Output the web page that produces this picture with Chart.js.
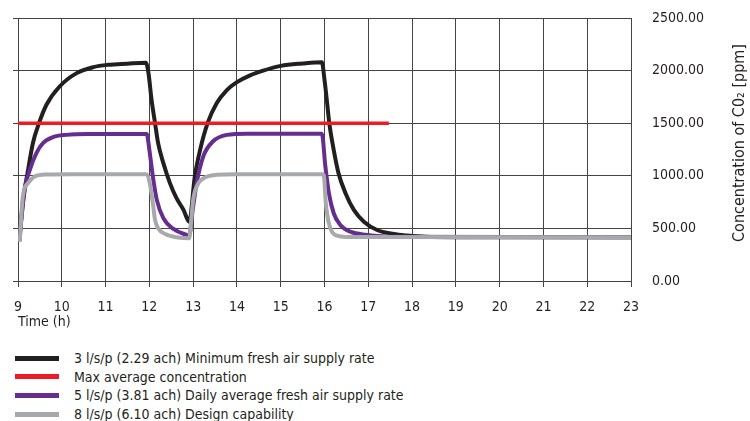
<!DOCTYPE html>
<html>
<head>
<meta charset="utf-8">
<script src="https://cdn.jsdelivr.net/npm/chart.js@4.4.1/dist/chart.umd.min.js"></script>
<style>
    body { margin: 0; background: #fff; }
    #wrap { position: relative; width: 750px; height: 421px; }
    #chart { position: absolute; left: 0; top: 0; }
    #legend {
        position: absolute; left: 15px; top: 349px;
        font: 14px 'Liberation Sans Narrow', 'DejaVu Sans Condensed', sans-serif;
        color: #231f20;
    }
    .row { display: flex; align-items: center; height: 18.6px; }
    .sw { width: 44px; height: 5px; margin-right: 15px; }
</style>
</head>
<body>
<div id="wrap">
    <canvas id="chart" width="750" height="335"></canvas>
    <div id="legend"></div>
</div>
<script>
const FONT = "'Liberation Sans Narrow', 'DejaVu Sans Condensed', sans-serif";
const INK = '#231f20';
const GRID = '#444444';

// series labels (legend order)
const labels = [
    '3 l/s/p (2.29 ach) Minimum fresh air supply rate',
    'Max average concentration',
    '5 l/s/p (3.81 ach) Daily average fresh air supply rate',
    '8 l/s/p (6.10 ach) Design capability'
];
const colors = ['#231f20', '#ed1c24', '#662d91', '#a7a9ac'];

// 3 l/s/p
const blackT = [9.03, 9.11, 9.23, 9.34, 9.48, 9.65, 9.95, 10.34, 10.72, 11.06, 11.5, 11.92,
    11.98, 12.05, 12.13, 12.2, 12.32, 12.47, 12.62, 12.78, 12.91,
    13.04, 13.16, 13.33, 13.54, 13.77, 14.0, 14.3, 14.6, 15.0, 15.5, 15.94,
    16.0, 16.06, 16.11, 16.21, 16.32, 16.48, 16.67, 16.9, 17.2, 17.58, 17.89, 18.3, 19, 23];
const blackV = [380, 739, 1056, 1310, 1500, 1675, 1849, 1976, 2033, 2055, 2066, 2075,
    1976, 1722, 1500, 1310, 1120, 930, 787, 676, 564,
    1000, 1247, 1500, 1691, 1815, 1890, 1955, 2000, 2045, 2068, 2080,
    1913, 1691, 1500, 1247, 1025, 835, 676, 564, 485, 447, 432, 420, 417, 417];

// max average concentration
const redT = [9, 17.47];
const redV = [1500, 1500];

// 5 l/s/p
const purpleT = [9.03, 9.15, 9.27, 9.42, 9.57, 9.8, 10.1, 10.6, 11.94,
    12.0, 12.08, 12.17, 12.32, 12.55, 12.85, 12.91,
    12.99, 13.08, 13.23, 13.45, 13.77, 14.23, 15.94,
    16.02, 16.1, 16.21, 16.36, 16.59, 16.97, 17.2, 17.6, 23];
const purpleV = [380, 866, 1056, 1215, 1310, 1367, 1389, 1398, 1398,
    1247, 993, 771, 597, 495, 438, 431,
    676, 930, 1183, 1326, 1389, 1400, 1400,
    1088, 835, 644, 533, 469, 438, 428, 420, 417];

// 8 l/s/p
const grayT = [9.04, 9.11, 9.23, 9.38, 9.65, 10.2, 11.94,
    12.01, 12.08, 12.13, 12.2, 12.36, 12.62, 12.91,
    12.95, 13.0, 13.1, 13.24, 13.54, 14.0, 15.98,
    16.03, 16.09, 16.17, 16.32, 16.59, 23];
const grayV = [375, 802, 930, 993, 1012, 1015, 1015,
    930, 739, 580, 501, 447, 416, 406,
    549, 771, 914, 977, 1009, 1015, 1015,
    739, 564, 469, 428, 418, 417];

const xTicks = [9, 23, 1];            // min, max, step (h)
const yTicks = [0, 2500, 500];        // min, max, step (ppm)

const pts = (t, v) => t.map((x, i) => ({x: x, y: v[i]}));

const series = [
    {t: blackT, v: blackV, width: 4, order: 3},
    {t: redT, v: redV, width: 3.4, order: 0},
    {t: purpleT, v: purpleV, width: 4, order: 2},
    {t: grayT, v: grayV, width: 4, order: 1}
];

const datasets = series.map((s, i) => ({
    label: labels[i],
    data: pts(s.t, s.v),
    borderColor: colors[i],
    backgroundColor: colors[i],
    borderWidth: s.width,
    pointRadius: 0,
    cubicInterpolationMode: 'monotone',
    borderJoinStyle: 'round',
    order: s.order
}));

// rotated y title (reads bottom to top)
const yTitle = {
    id: 'yTitle',
    afterDraw(chart) {
        const ctx = chart.ctx;
        ctx.save();
        ctx.translate(740, 143);
        ctx.rotate(-Math.PI / 2);
        ctx.font = '16px ' + FONT;
        ctx.fillStyle = INK;
        ctx.textAlign = 'center';
        ctx.textBaseline = 'middle';
        ctx.fillText('Concentration of C0\u2082 [ppm]', 0, 0);
        ctx.restore();
    }
};

new Chart(document.getElementById('chart'), {
    type: 'line',
    data: {datasets: datasets},
    options: {
        responsive: false,
        animation: false,
        layout: {padding: {left: 13, top: 18, right: 0, bottom: 0}},
        plugins: {legend: {display: false}, tooltip: {enabled: false}},
        scales: {
            x: {
                type: 'linear',
                min: xTicks[0], max: xTicks[1],
                ticks: {stepSize: xTicks[2], color: INK, font: {family: FONT, size: 14}, padding: 12, maxRotation: 0},
                grid: {color: GRID, lineWidth: 1, tickLength: 6},
                border: {color: GRID},
                title: {display: true, text: 'Time (h)', align: 'start', color: INK,
                    font: {family: FONT, size: 14}, padding: {top: 2, bottom: 4}},
                afterFit: s => { s.height = 54; }
            },
            y: {
                position: 'right',
                min: yTicks[0], max: yTicks[1],
                ticks: {stepSize: yTicks[2], color: INK, font: {family: FONT, size: 14}, padding: 4,
                    callback: v => v.toFixed(2)},
                grid: {color: GRID, lineWidth: 1, tickLength: 17, tickColor: 'rgba(0,0,0,0)'},
                border: {color: GRID},
                afterFit: s => { s.width = 119; }
            },
            yl: {
                position: 'left',
                min: yTicks[0], max: yTicks[1],
                ticks: {stepSize: yTicks[2], display: false},
                grid: {color: GRID, lineWidth: 1, drawOnChartArea: false, tickLength: 5},
                border: {display: false},
                afterFit: s => { s.width = 5; }
            }
        }
    },
    plugins: [yTitle]
});

// legend, one row per series
const legend = document.getElementById('legend');
labels.forEach((text, i) => {
    const row = document.createElement('div');
    row.className = 'row';
    row.innerHTML = '<span class="sw" style="background:' + colors[i] + '"></span><span>' + text + '</span>';
    legend.appendChild(row);
});
</script>
</body>
</html>
